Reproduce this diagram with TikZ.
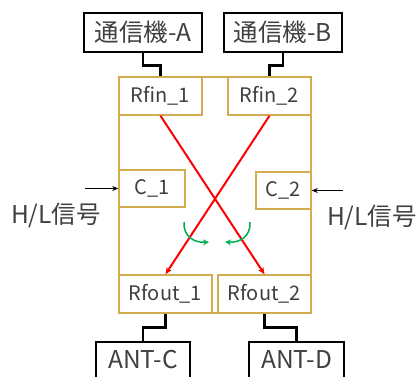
\documentclass[tikz,border=0pt]{standalone}
\usepackage{fontspec}
\setmainfont{Noto Sans CJK JP}
\usetikzlibrary{arrows.meta}
\definecolor{gold}{RGB}{212,172,80}
\definecolor{txt}{RGB}{64,64,64}
\definecolor{grn}{RGB}{0,176,80}
\tikzset{
  blackbox/.style={draw=black, line width=2.6pt, fill=white, text=txt, font=\fontsize{24.5}{24.5}\selectfont, inner sep=0pt},
  goldbox/.style={draw=gold, line width=1.5pt, fill=white, text=txt, font=\fontsize{20}{20}\selectfont, inner sep=0pt},
  wire/.style={black, line width=2.6pt},
  redarrow/.style={red, line width=2pt, -{Stealth[length=7pt,width=6pt]}},
  grnarrow/.style={grn, line width=1.5pt, -{Stealth[length=6pt,width=6pt]}},
  sigarrow/.style={black, line width=1.3pt, -{Stealth[length=6pt,width=5pt]}},
  sig/.style={text=txt, font=\fontsize{24.5}{24.5}\selectfont, inner sep=0pt}
}
\begin{document}
\begin{tikzpicture}[x=1pt,y=-1pt]
\useasboundingbox (0,0) rectangle (417,376);
% outer gold box
\draw[gold, line width=1.5pt] (119,77) rectangle (311,313);
% boxes
\node[blackbox, minimum width=118pt, minimum height=39pt] (A) at (143,32.5) {通信機-A};
\node[blackbox, minimum width=118pt, minimum height=39pt] (B) at (283,32.5) {通信機-B};
\node[goldbox, minimum width=83pt, minimum height=38pt] (rfin1) at (160.5,96) {Rfin\_1};
\node[goldbox, minimum width=83pt, minimum height=38pt] (rfin2) at (269.5,96) {Rfin\_2};
\node[goldbox, minimum width=66pt, minimum height=37pt] (c1) at (152,188.5) {C\_1};
\node[goldbox, minimum width=55pt, minimum height=37pt] (c2) at (283.5,190.5) {C\_2};
\node[goldbox, minimum width=93pt, minimum height=38pt] (rfout1) at (165.5,294) {Rfout\_1};
\node[goldbox, minimum width=93pt, minimum height=38pt] (rfout2) at (264.5,294) {Rfout\_2};
\node[blackbox, minimum width=94pt, minimum height=36pt] (antc) at (143,360) {ANT-C};
\node[blackbox, minimum width=95pt, minimum height=36pt] (antd) at (296.5,360) {ANT-D};
% wires
\draw[wire] (A.south) -- ++(0,12) -| (rfin1.north);
\draw[wire] (B.south) -- ++(0,12) -| (rfin2.north);
\draw[wire] (rfout1.south) -- ++(0,14) -| (antc.north);
\draw[wire] (rfout2.south) -- ++(0,14) -| (antd.north);
% red crossing arrows
\draw[redarrow] (rfin1.south) -- (rfout2.north);
\draw[redarrow] (rfin2.south) -- (rfout1.north);
% green curved arrows
\coordinate (g1s) at (184,222);
\coordinate (g1e) at (209,242);
\coordinate (g2s) at (250,222);
\coordinate (g2e) at (225,242);
\draw[grnarrow] (g1s) .. controls (183,236) and (194,243) .. (g1e);
\draw[grnarrow] (g2s) .. controls (251,236) and (240,243) .. (g2e);
% H/L signals
\coordinate (s1) at (85,188.5);
\coordinate (s2) at (343,190.5);
\draw[sigarrow] (s1) -- (c1.west);
\draw[sigarrow] (s2) -- (c2.east);
\node[sig] (hl1) at (56,215) {H/L信号};
\node[sig] (hl2) at (372,217) {H/L信号};
\end{tikzpicture}
\end{document}
